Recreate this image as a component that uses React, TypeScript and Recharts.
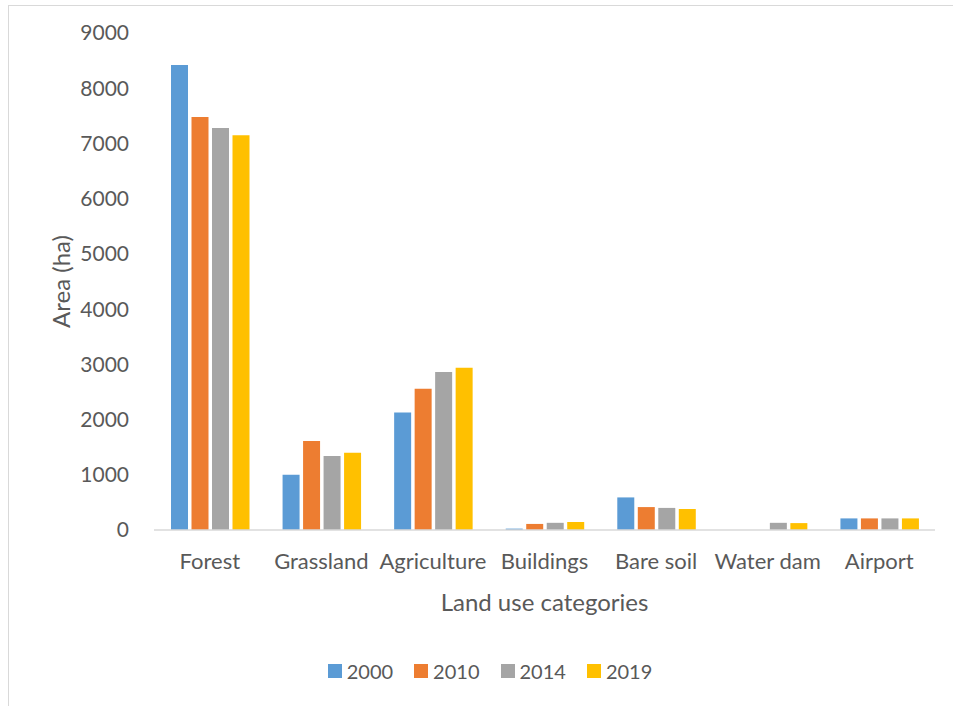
import React from 'react';
import { BarChart, Bar, XAxis, YAxis, Legend } from 'recharts';

const categories = ['Forest', 'Grassland', 'Agriculture', 'Buildings', 'Bare soil', 'Water dam', 'Airport'];
const y2000 = [8420, 1000, 2130, 25, 590, 0, 210];
const y2010 = [7480, 1610, 2560, 110, 415, 0, 210];
const y2014 = [7280, 1340, 2860, 130, 400, 130, 210];
const y2019 = [7150, 1400, 2940, 145, 380, 125, 210];
const yTicks = [0, 1000, 2000, 3000, 4000, 5000, 6000, 7000, 8000, 9000];

const seriesNames = ['2000', '2010', '2014', '2019'];
const colors = ['#5B9BD5', '#ED7D31', '#A5A5A5', '#FFC000'];

const data = categories.map((c, i) => ({
  name: c,
  '2000': y2000[i],
  '2010': y2010[i],
  '2014': y2014[i],
  '2019': y2019[i],
}));

const FONT = 'Lato, "Noto Sans", sans-serif';
const TEXT = '#595959';

const LegendContent = () => (
  <div style={{ display: 'flex', justifyContent: 'center', fontFamily: FONT, fontSize: 20, color: TEXT, height: 24 }}>
    {seriesNames.map((s, i) => (
      <div key={s} style={{ display: 'flex', alignItems: 'center', marginRight: i < 3 ? 21 : 0 }}>
        <span style={{ display: 'inline-block', width: 14, height: 14, background: colors[i], marginRight: 5 }} />
        <span>{s}</span>
      </div>
    ))}
  </div>
);

export default function App() {
  return (
    <div style={{ position: 'fixed', left: 0, top: 0, width: 953, height: 706, background: '#fff', overflow: 'hidden' }}>
      <div style={{ position: 'absolute', left: 8, top: 5, width: 1000, height: 800, border: '1px solid #d9d9d9', boxSizing: 'border-box' }} />
      <div style={{ position: 'absolute', left: 0, top: 0 }}>
        <BarChart
          width={953}
          height={706}
          data={data}
          margin={{ top: 33, right: 18, bottom: 122, left: 0 }}
          barCategoryGap={17}
          barGap={3.5}
        >
          <XAxis
            dataKey="name"
            height={30}
            axisLine={{ stroke: '#d9d9d9', strokeWidth: 1.5 }}
            tickLine={false}
            tickSize={0}
            tickMargin={23}
            tick={{ fill: TEXT, fontSize: 22, fontFamily: FONT }}
            interval={0}
            label={{
              content: (props: any) => {
                const vb = props.viewBox || {};
                const cx = vb.x + vb.width / 2;
                return (
                  <text x={cx} y={601} textAnchor="middle" dominantBaseline="central" fill={TEXT} fontSize={24} fontFamily={FONT}>
                    Land use categories
                  </text>
                );
              },
            }}
          />
          <YAxis
            width={154}
            domain={[0, 9000]}
            ticks={yTicks}
            interval={0}
            axisLine={false}
            tickLine={false}
            tickSize={0}
            tickMargin={25}
            tick={{ fill: TEXT, fontSize: 21, fontFamily: FONT }}
            label={{
              content: (props: any) => {
                const vb = props.viewBox || {};
                const cy = vb.y + vb.height / 2;
                return (
                  <text x={60} y={cy} transform={`rotate(-90 60 ${cy})`} textAnchor="middle" dominantBaseline="central" fill={TEXT} fontSize={24} fontFamily={FONT}>
                    Area (ha)
                  </text>
                );
              },
            }}
          />
          <Legend
            verticalAlign="bottom"
            height={24}
            content={<LegendContent />}
            wrapperStyle={{ position: 'absolute', top: 659, left: 0, width: 980 }}
          />
          {seriesNames.map((s, i) => (
            <Bar key={s} dataKey={s} fill={colors[i]} isAnimationActive={false} />
          ))}
        </BarChart>
      </div>
    </div>
  );
}
